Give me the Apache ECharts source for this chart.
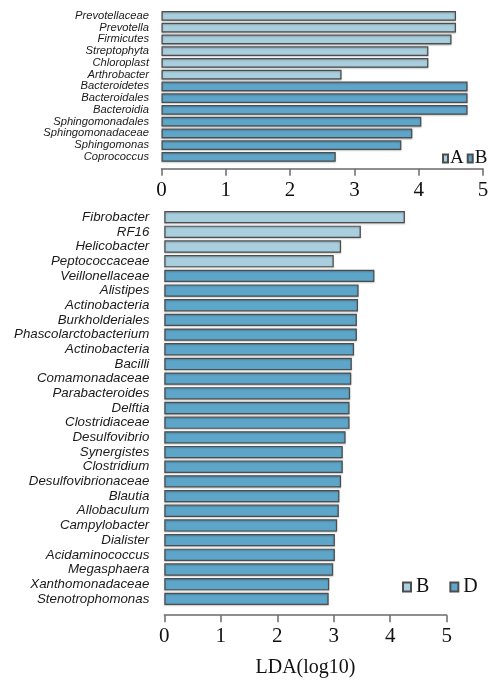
<!DOCTYPE html>
<html>
<head>
<meta charset="utf-8">
<script src="https://cdn.jsdelivr.net/npm/echarts@6/dist/echarts.min.js"></script>
<style>
  html, body { margin: 0; padding: 0; background: #ffffff; }
  #chart { width: 504px; height: 680px; }
</style>
</head>
<body>
<div id="chart"></div>
<script>
// Upper panel: groups A and B
const topLabelsA = ['Prevotellaceae', 'Prevotella', 'Firmicutes', 'Streptophyta', 'Chloroplast', 'Arthrobacter'];
const topValuesA = [4.58, 4.58, 4.51, 4.15, 4.15, 2.80];
const topLabelsB = ['Bacteroidetes', 'Bacteroidales', 'Bacteroidia', 'Sphingomonadales', 'Sphingomonadaceae', 'Sphingomonas', 'Coprococcus'];
const topValuesB = [4.76, 4.76, 4.76, 4.04, 3.90, 3.73, 2.71];

// Lower panel: groups B and D
const bottomLabelsB = ['Fibrobacter', 'RF16', 'Helicobacter', 'Peptococcaceae'];
const bottomValuesB = [4.26, 3.48, 3.13, 3.00];
const bottomLabelsD = ['Veillonellaceae', 'Alistipes', 'Actinobacteria', 'Burkholderiales', 'Phascolarctobacterium',
  'Actinobacteria', 'Bacilli', 'Comamonadaceae', 'Parabacteroides', 'Delftia', 'Clostridiaceae', 'Desulfovibrio',
  'Synergistes', 'Clostridium', 'Desulfovibrionaceae', 'Blautia', 'Allobaculum', 'Campylobacter', 'Dialister',
  'Acidaminococcus', 'Megasphaera', 'Xanthomonadaceae', 'Stenotrophomonas'];
const bottomValuesD = [3.72, 3.44, 3.43, 3.41, 3.41, 3.36, 3.32, 3.31, 3.29, 3.28, 3.28, 3.21,
  3.16, 3.16, 3.13, 3.10, 3.09, 3.06, 3.02, 3.02, 2.99, 2.92, 2.91];

const ldaTicks = [0, 1, 2, 3, 4, 5];

const LIGHT = '#a9cede';
const DARK = '#5ea6c9';
const EDGE = '#4d4d4d';
const SERIF = '"Liberation Serif", "Times New Roman", serif';
const SANS = '"Liberation Sans", Arial, sans-serif';

// Category index keys keep duplicate names (e.g. Actinobacteria) as distinct rows
function buildPanel(labels1, values1, labels2, values2) {
  const labels = labels1.concat(labels2);
  const keys = labels.map((_, i) => String(i));
  const s1 = values1.concat(labels2.map(() => null));
  const s2 = labels1.map(() => null).concat(values2);
  return { labels, keys, s1, s2 };
}

const topPanel = buildPanel(topLabelsA, topValuesA, topLabelsB, topValuesB);
const bottomPanel = buildPanel(bottomLabelsB, bottomValuesB, bottomLabelsD, bottomValuesD);

function valueAxis(gridIndex, offset, extra) {
  return Object.assign({
    type: 'value',
    gridIndex: gridIndex,
    min: ldaTicks[0],
    max: ldaTicks[ldaTicks.length - 1],
    interval: 1,
    offset: offset,
    splitLine: { show: false },
    axisLine: { show: true, lineStyle: { color: '#6b6b6b', width: 1.5 } },
    axisTick: { show: true, inside: false, length: 7, lineStyle: { color: '#6b6b6b', width: 1.5 } },
    axisLabel: {
      margin: 11,
      color: '#111',
      fontFamily: SERIF,
      fontSize: 21,
      formatter: v => ldaTicks.includes(v) ? String(v) : ''
    }
  }, extra || {});
}

function categoryAxis(gridIndex, panel, fontSize, margin) {
  return {
    type: 'category',
    gridIndex: gridIndex,
    inverse: true,
    data: panel.keys,
    axisLine: { show: false },
    axisTick: { show: false },
    axisLabel: {
      margin: margin,
      color: '#1a1a1a',
      fontFamily: SANS,
      fontStyle: 'italic',
      fontSize: fontSize,
      interval: 0,
      formatter: v => panel.labels[Number(v)]
    }
  };
}

function barSeries(name, data, color, xi, yi, width) {
  return {
    name: name,
    type: 'bar',
    xAxisIndex: xi,
    yAxisIndex: yi,
    data: data,
    barWidth: width,
    barGap: '-100%',
    itemStyle: {
      color: color,
      borderColor: EDGE,
      borderWidth: 1.2,
      shadowColor: 'rgba(0,0,0,0.25)',
      shadowBlur: 1.5,
      shadowOffsetY: 1
    },
    silent: true
  };
}

const chart = echarts.init(document.getElementById('chart'), null, { renderer: 'canvas' });
chart.setOption({
  backgroundColor: '#ffffff',
  animation: false,
  grid: [
    { left: 161.5, right: 21, top: 10, height: 152.75, containLabel: false, outerBoundsMode: 'none' },
    { left: 164.3, right: 57.3, top: 209.8, height: 396.4, containLabel: false, outerBoundsMode: 'none' }
  ],
  xAxis: [
    valueAxis(0, 6),
    valueAxis(1, 9, {
      name: 'LDA(log10)',
      nameLocation: 'middle',
      nameGap: 43,
      nameTextStyle: { fontFamily: SERIF, fontSize: 20, color: '#111' }
    })
  ],
  yAxis: [
    categoryAxis(0, topPanel, 11.2, 12.5),
    categoryAxis(1, bottomPanel, 13.3, 15)
  ],
  legend: [
    {
      data: ['A', 'B'],
      left: 437,
      top: 144,
      icon: 'rect',
      itemWidth: 5,
      itemHeight: 8,
      itemGap: 3,
      textStyle: { fontFamily: SERIF, fontSize: 19, color: '#111', padding: [0, 0, 0, -3] },
      selectedMode: false
    },
    {
      data: ['B ', 'D'],
      formatter: name => name.trim(),
      left: 397,
      top: 572,
      icon: 'rect',
      itemWidth: 8,
      itemHeight: 9,
      itemGap: 20,
      textStyle: { fontFamily: SERIF, fontSize: 20, color: '#111' },
      selectedMode: false
    }
  ],
  series: [
    barSeries('A', topPanel.s1, LIGHT, 0, 0, 9.7),
    barSeries('B', topPanel.s2, DARK, 0, 0, 9.7),
    barSeries('B ', bottomPanel.s1, LIGHT, 1, 1, 12.3),
    barSeries('D', bottomPanel.s2, DARK, 1, 1, 12.3)
  ]
});
</script>
</body>
</html>
